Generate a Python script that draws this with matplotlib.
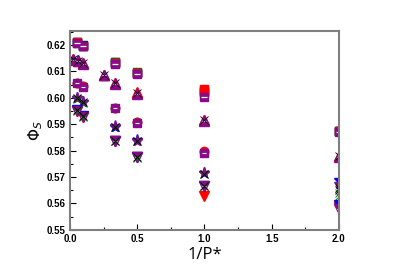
import numpy as np
import matplotlib.pyplot as plt
from matplotlib.ticker import MultipleLocator

# 1/P* positions for each group of points
x_sq = [0.05, 0.1, 0.333, 0.5, 1.0, 2.0]
x_tri = [0.02, 0.06, 0.1, 0.25, 0.333, 0.5, 1.0, 2.0]
x_mid = [0.05, 0.1, 0.333, 0.5, 1.0]
x_star = [0.05, 0.1, 0.333, 0.5, 1.0, 2.0]
x_down = [0.05, 0.1, 0.333, 0.5, 1.0, 2.0]

# top squares
sq_black = [0.6210, 0.6199, 0.6134, 0.6095, 0.6024, 0.5874]
sq_red = [0.6210, 0.6198, 0.6133, 0.6094, 0.6034, 0.5873]
sq_blue = [0.6209, 0.6198, 0.6133, 0.6094, 0.6028, 0.5873]
sq_green = [0.6210, 0.6198, 0.6135, 0.6096, 0.6022, 0.5874]
sq_purple = [0.6208, 0.6196, 0.6130, 0.6090, 0.6002, 0.5871]

# up triangles
tri_black = [0.6146, 0.6140, 0.6132, 0.6086, 0.6056, 0.6018, 0.5916, 0.5778]
tri_red = [0.6147, 0.6141, 0.6133, 0.6087, 0.6057, 0.6022, 0.5918, 0.5781]
tri_blue = [0.6147, 0.6142, 0.6133, 0.6087, 0.6058, 0.6019, 0.5917, 0.5779]
tri_purple = [0.6145, 0.6139, 0.6130, 0.6085, 0.6054, 0.6015, 0.5914, 0.5775]

# middle squares / circles
mid_red = [0.6057, 0.6044, 0.5962, 0.5908, 0.5797]
mid_green = [0.6057, 0.6044, 0.5962, 0.5910, 0.5794]
mid_purple = [0.6055, 0.6042, 0.5960, 0.5905, 0.5790]

# stars and crosses
star_black = [0.5998, 0.5984, 0.5890, 0.5837, 0.5713, 0.5660]
star_green = [0.5996, 0.5982, 0.5888, 0.5835, 0.5710, 0.5630]
star_blue = [0.5999, 0.5985, 0.5891, 0.5839, 0.5716, 0.5688]
star_purple = [0.5998, 0.5983, 0.5892, 0.5838, 0.5714, 0.5672]

# down triangles and crosses
down_black = [0.5953, 0.5930, 0.5838, 0.5777, 0.5668, 0.5650]
down_green = [0.5950, 0.5927, 0.5836, 0.5774, 0.5665, 0.5640]
down_red = [0.5952, 0.5929, 0.5837, 0.5776, 0.5627, 0.5588]
down_blue = [0.5953, 0.5930, 0.5838, 0.5777, 0.5668, 0.5593]
down_purple = [0.5952, 0.5929, 0.5837, 0.5776, 0.5667, 0.5578]

purple = '#8a0a8a'

fig = plt.figure(figsize=(3.95, 2.77), dpi=100)
ax = fig.add_axes([0.177, 0.170, 0.681, 0.718])

ms = 6
ax.plot(x_sq, sq_black, 's', color='black', ms=ms)
ax.plot(x_sq, sq_green, 's', color='green', ms=ms)
ax.plot(x_sq, sq_blue, 's', color='blue', ms=ms)
ax.plot(x_sq, sq_red, 's', color='red', ms=ms)
ax.plot(x_sq, sq_purple, 's', color=purple, ms=ms)
ax.plot(x_sq, sq_purple, '_', color='white', ms=4, mew=0.9)

ax.plot(x_tri, tri_blue, '^', color='blue', ms=ms + 1)
ax.plot(x_tri, tri_red, '^', color='red', ms=ms + 1)
ax.plot(x_tri, tri_purple, '^', color=purple, ms=ms + 1)
ax.plot(x_tri, tri_purple, '_', color='white', ms=3, mew=0.8)
ax.plot(x_tri, tri_black, 'x', color='black', ms=ms, mew=0.6)

ax.plot(x_mid, mid_green, 'o', color='green', ms=ms, mfc='none')
ax.plot(x_mid, mid_red, 'o', color='red', ms=ms)
ax.plot(x_mid, mid_purple, 's', color=purple, ms=ms - 0.5)
ax.plot(x_mid, mid_purple, '_', color='white', ms=3.5, mew=0.8)

ax.plot(x_star, star_blue, '*', color='blue', ms=ms + 2)
ax.plot(x_star, star_purple, '*', color=purple, ms=ms + 2)
ax.plot(x_star, star_green, 'x', color='green', ms=ms, mew=0.7)
ax.plot(x_star, star_black, 'x', color='black', ms=ms, mew=0.7)

ax.plot(x_down, down_red, 'v', color='red', ms=ms + 1)
ax.plot(x_down, down_blue, 'v', color='blue', ms=ms + 1)
ax.plot(x_down, down_purple, 'v', color=purple, ms=ms + 1)
ax.plot(x_down, down_purple, '_', color='white', ms=3, mew=0.8)
ax.plot(x_down, down_green, 'x', color='green', ms=ms, mew=0.7)
ax.plot(x_down, down_black, 'x', color='black', ms=ms, mew=0.7)

ax.set_xlim(0, 2.0)
ax.set_ylim(0.55, 0.6253)
ax.xaxis.set_major_locator(MultipleLocator(0.5))
ax.xaxis.set_minor_locator(MultipleLocator(0.25))
ax.yaxis.set_major_locator(MultipleLocator(0.01))
ax.yaxis.set_minor_locator(MultipleLocator(0.005))
ax.xaxis.set_major_formatter(plt.FormatStrFormatter('%.1f'))
ax.yaxis.set_major_formatter(plt.FormatStrFormatter('%.2f'))

ax.tick_params(which='both', direction='in', top=False, right=False,
               labelsize=7, colors='black', pad=3)
ax.tick_params(which='major', length=4, width=0.8)
ax.tick_params(which='minor', length=2, width=0.8)
for lab in ax.get_xticklabels() + ax.get_yticklabels():
    lab.set_fontweight('bold')
    lab.set_family('Liberation Sans')
for s in ax.spines.values():
    s.set_color('#7f7f7f')
    s.set_linewidth(1.5)

ax.set_xlabel('1/P*', fontsize=12, family='Open Sans', labelpad=2)
ax.set_ylabel(r'$\Phi_S$', fontsize=11, labelpad=1)

fig.savefig('out.png', dpi=100)
